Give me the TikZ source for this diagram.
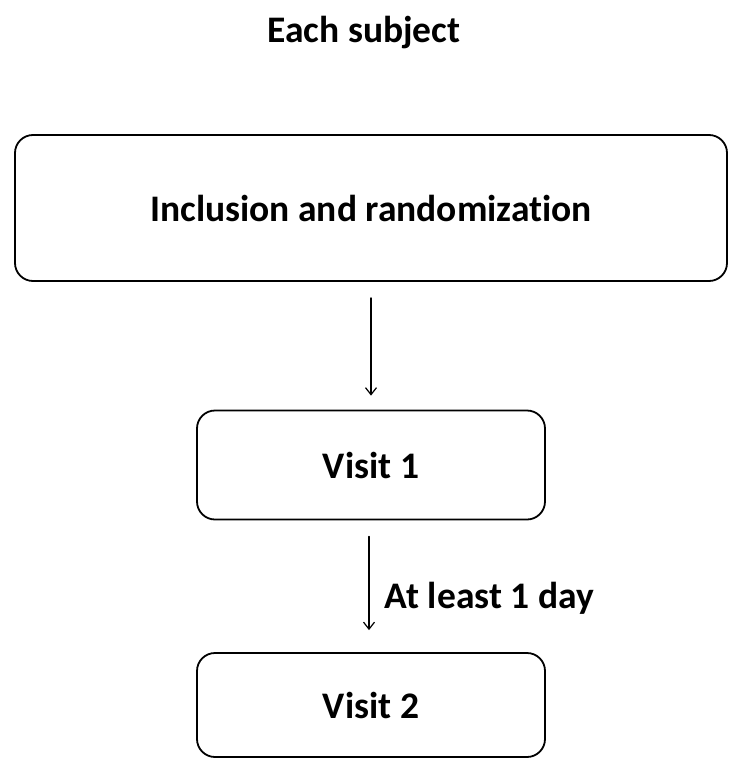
\documentclass[tikz,border=0pt]{standalone}
\usepackage{fontspec}
\setmainfont[Ligatures=NoCommon]{Carlito}
\usetikzlibrary{arrows.meta}
\begin{document}
\begin{tikzpicture}[x=1pt,y=-1pt,>={Straight Barb[length=7pt,width=11pt]}, font=\fontsize{37.5}{42}\selectfont\bfseries, line join=round, line cap=round]
			\tikzset{stage box/.style={draw,line width=1.8pt,rounded corners=18pt,inner sep=0pt}}
			\useasboundingbox (0,0) rectangle (729,760);
			\node (title) at (364,33) {Each subject};
			\node[stage box,minimum width=712,minimum height=146] (incl) at (371,208) {Inclusion and randomization};
			\node[stage box,minimum width=348,minimum height=109] (visit1) at (371,465) {Visit 1};
			\node[stage box,minimum width=348,minimum height=104] (visit2) at (371,705) {Visit 2};
			\draw[->,line width=1.2pt] ([yshift=-16pt]incl.south) -- ([yshift=14pt]visit1.north);
			\draw[->,line width=1.2pt] ([xshift=-2pt,yshift=-16pt]visit1.south) -- ([xshift=-2pt,yshift=22pt]visit2.north)
			node[midway,right=12pt,yshift=-15pt] {At least 1 day};
\end{tikzpicture}
\end{document}
